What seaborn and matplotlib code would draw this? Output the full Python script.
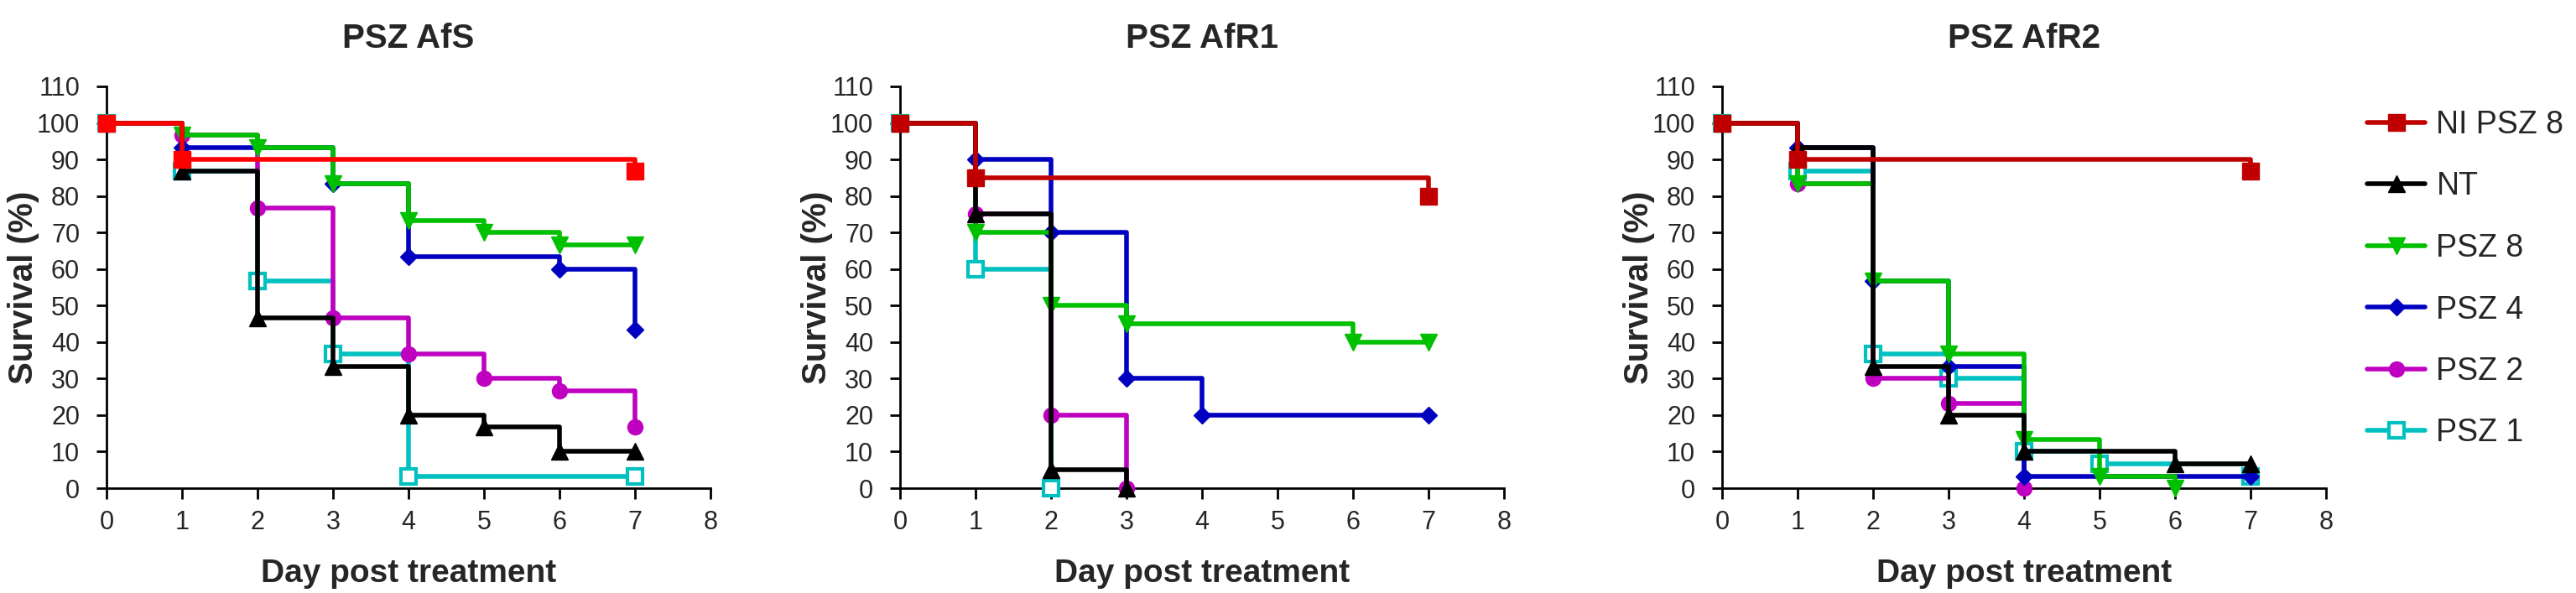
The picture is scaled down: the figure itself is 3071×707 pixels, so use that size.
import matplotlib
matplotlib.use("Agg")
import matplotlib.pyplot as plt
from matplotlib import font_manager
from matplotlib.lines import Line2D
import seaborn as sns
import pandas as pd

# ---------------- data ----------------
titles = ["PSZ AfS", "PSZ AfR1", "PSZ AfR2"]
groups = ["NI PSZ 8", "NT", "PSZ 8", "PSZ 4", "PSZ 2", "PSZ 1"]

# Panel 1: PSZ AfS
afs_ni_x = [0, 1, 7];                    afs_ni_y = [100, 90, 86.7]
afs_nt_x = [0, 1, 2, 3, 4, 5, 6, 7];     afs_nt_y = [100, 86.7, 46.7, 33.3, 20, 16.7, 10, 10]
afs_p8_x = [0, 1, 2, 3, 4, 5, 6, 7];     afs_p8_y = [100, 96.7, 93.3, 83.3, 73.3, 70, 66.7, 66.7]
afs_p4_x = [0, 1, 3, 4, 6, 7];           afs_p4_y = [100, 93.3, 83.3, 63.3, 60, 43.3]
afs_p2_x = [0, 1, 2, 3, 4, 5, 6, 7];     afs_p2_y = [100, 96.7, 76.7, 46.7, 36.7, 30, 26.7, 16.7]
afs_p1_x = [0, 1, 2, 3, 4, 7];           afs_p1_y = [100, 86.7, 56.7, 36.7, 3.3, 3.3]

# Panel 2: PSZ AfR1
r1_ni_x = [0, 1, 7];                     r1_ni_y = [100, 85, 80]
r1_nt_x = [0, 1, 2, 3];                  r1_nt_y = [100, 75, 5, 0]
r1_p8_x = [0, 1, 2, 3, 6, 7];            r1_p8_y = [100, 70, 50, 45, 40, 40]
r1_p4_x = [0, 1, 2, 3, 4, 7];            r1_p4_y = [100, 90, 70, 30, 20, 20]
r1_p2_x = [0, 1, 2, 3];                  r1_p2_y = [100, 75, 20, 0]
r1_p1_x = [0, 1, 2];                     r1_p1_y = [100, 60, 0]

# Panel 3: PSZ AfR2
r2_ni_x = [0, 1, 7];                     r2_ni_y = [100, 90, 86.7]
r2_nt_x = [0, 1, 2, 3, 4, 6, 7];         r2_nt_y = [100, 93.3, 33.3, 20, 10, 6.7, 6.7]
r2_p8_x = [0, 1, 2, 3, 4, 5, 6];         r2_p8_y = [100, 83.3, 56.7, 36.7, 13.3, 3.3, 0]
r2_p4_x = [0, 1, 2, 3, 4, 7];            r2_p4_y = [100, 93.3, 56.7, 33.3, 3.3, 3.3]
r2_p2_x = [0, 1, 2, 3, 4];               r2_p2_y = [100, 83.3, 30, 23.3, 0]
r2_p1_x = [0, 1, 2, 3, 4, 5, 7];         r2_p1_y = [100, 86.7, 36.7, 30, 10, 6.7, 3.3]

x_ticks = [0, 1, 2, 3, 4, 5, 6, 7, 8]
y_ticks = [0, 10, 20, 30, 40, 50, 60, 70, 80, 90, 100, 110]
x_label = "Day post treatment"
y_label = "Survival (%)"

panels = [
    [(afs_ni_x, afs_ni_y), (afs_nt_x, afs_nt_y), (afs_p8_x, afs_p8_y),
     (afs_p4_x, afs_p4_y), (afs_p2_x, afs_p2_y), (afs_p1_x, afs_p1_y)],
    [(r1_ni_x, r1_ni_y), (r1_nt_x, r1_nt_y), (r1_p8_x, r1_p8_y),
     (r1_p4_x, r1_p4_y), (r1_p2_x, r1_p2_y), (r1_p1_x, r1_p1_y)],
    [(r2_ni_x, r2_ni_y), (r2_nt_x, r2_nt_y), (r2_p8_x, r2_p8_y),
     (r2_p4_x, r2_p4_y), (r2_p2_x, r2_p2_y), (r2_p1_x, r2_p1_y)],
]

# ---------------- styles ----------------
red_panel = ["#FF0000", "#C00000", "#C00000"]
colors = {"NT": "#000000", "PSZ 8": "#00C000", "PSZ 4": "#0000C0",
          "PSZ 2": "#C000C0", "PSZ 1": "#00C0C0"}
markers = {"NI PSZ 8": "s", "NT": "^", "PSZ 8": "v", "PSZ 4": "D",
           "PSZ 2": "o", "PSZ 1": "s"}
msizes = {"NI PSZ 8": 14, "NT": 14, "PSZ 8": 14, "PSZ 4": 10,
          "PSZ 2": 13, "PSZ 1": 13}
zorders = {"PSZ 1": 3, "PSZ 2": 4, "PSZ 4": 5, "PSZ 8": 6, "NT": 7, "NI PSZ 8": 8}
LW = 4.0

sns.set_style("ticks")
avail = {f.name for f in font_manager.fontManager.ttflist}
narrow = "Liberation Sans Narrow" if "Liberation Sans Narrow" in avail else "Liberation Sans"
plt.rcParams["font.family"] = ["Liberation Sans", "DejaVu Sans"]

W, H = 3071, 707
fig = plt.figure(figsize=(W / 100, H / 100), dpi=100)

ax_bottom = (H - 582) / H
ax_height = (582 - 103) / H
ax_width = 720 / W
lefts = [127, 1073, 2053]

for pi, (title, series) in enumerate(zip(titles, panels)):
    ax = fig.add_axes([lefts[pi] / W, ax_bottom, ax_width, ax_height])
    for name, (xs, ys) in zip(groups, series):
        col = red_panel[pi] if name == "NI PSZ 8" else colors[name]
        df = pd.DataFrame({"day": xs, "surv": ys})
        mfc = "white" if name == "PSZ 1" else col
        sns.lineplot(data=df, x="day", y="surv", ax=ax, color=col,
                     marker=markers[name], markersize=msizes[name],
                     markerfacecolor=mfc, markeredgecolor=col,
                     markeredgewidth=3 if name == "PSZ 1" else 1,
                     linewidth=LW, drawstyle="steps-post", errorbar=None,
                     zorder=zorders[name], clip_on=False, legend=False)
    ax.set_xlim(0, 8)
    ax.set_ylim(0, 110)
    ax.set_xticks(x_ticks)
    ax.set_yticks(y_ticks)
    ax.set_xticklabels([str(t) for t in x_ticks], fontsize=22, family=narrow)
    ax.set_yticklabels([str(t) for t in y_ticks], fontsize=22, family=narrow)
    ax.tick_params(axis="both", direction="out", length=9, width=2, color="black")
    ax.tick_params(axis="x", pad=10)
    ax.tick_params(axis="y", pad=14)
    for s in ["top", "right"]:
        ax.spines[s].set_visible(False)
    for s in ["left", "bottom"]:
        ax.spines[s].set_linewidth(2)
        ax.spines[s].set_color("black")
    ax.set_xlabel(x_label, fontsize=28, fontweight="bold")
    ax.set_ylabel(y_label, fontsize=29, fontweight="bold")
    ax.xaxis.set_label_coords(0.5, -84 / 479)
    ax.yaxis.set_label_coords(-80 / 720, 0.5)
    ax.set_title(title, fontsize=29, fontweight="bold", pad=33)

# legend (styles as in third panel)
handles = []
for name in groups:
    col = red_panel[2] if name == "NI PSZ 8" else colors[name]
    handles.append(Line2D([], [], color=col, marker=markers[name],
                          markersize=msizes[name],
                          markerfacecolor="white" if name == "PSZ 1" else col,
                          markeredgecolor=col,
                          markeredgewidth=3 if name == "PSZ 1" else 1,
                          linewidth=LW))
fig.legend(handles, groups, loc="upper left",
           bbox_to_anchor=(2822 / W, (H - 131) / H), frameon=False,
           borderaxespad=0, borderpad=0, handlelength=1.85, handletextpad=0.35,
           labelspacing=1.0, prop={"family": narrow, "size": 27})

fig.savefig("out.png", dpi=100)
